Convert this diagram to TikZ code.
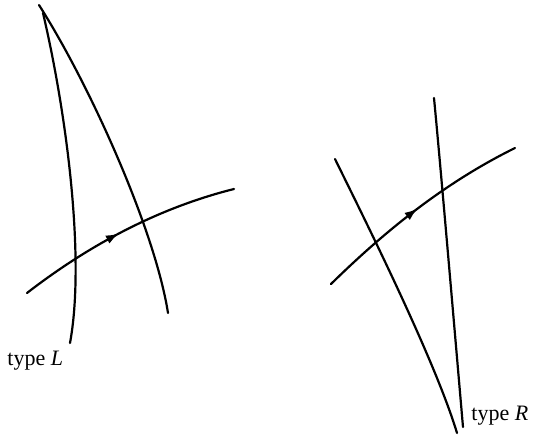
\documentclass[tikz,border=0pt]{standalone}
\usepackage{fontspec}
\setmainfont{Liberation Serif}
\usetikzlibrary{arrows.meta,decorations.markings}
\begin{document}
\begin{tikzpicture}[x=0.5pt,y=-0.5pt,
  curve/.style={line width=1.1pt,line cap=round},
  midarrow/.style={postaction={decorate},decoration={markings,
    mark=at position #1 with {\arrow{Latex[length=6.5pt,width=4.5pt]}}}},
  lbl/.style={font=\fontsize{11}{13}\selectfont,inner sep=0pt}]
\useasboundingbox (0,0) rectangle (537,440);
% left figure
\coordinate (l1a) at (43,13);
\coordinate (l1b) at (70,343);
\coordinate (l2a) at (39,5);
\coordinate (l2b) at (168,313);
\coordinate (h1a) at (27,293);
\coordinate (h1b) at (234,189);
\draw[curve] (l1a) .. controls (68,120) and (85,262) .. (l1b);
\draw[curve] (l2a) .. controls (90,85) and (155,230) .. (l2b);
\draw[curve,midarrow=0.47] (h1a) .. controls (80,252) and (150,210) .. (h1b);
\node[lbl,anchor=west] (tL) at (7,361) {type \textit{L}};
% right figure
\coordinate (r1a) at (335,159);
\coordinate (r1b) at (457,433);
\coordinate (r2a) at (434,98);
\coordinate (r2b) at (463,427);
\coordinate (h2a) at (331,284);
\coordinate (h2b) at (515,148);
\draw[curve] (r1a) .. controls (365,220) and (435,360) .. (r1b);
\draw[curve] (r2a) .. controls (440,160) and (452,300) .. (r2b);
\draw[curve,midarrow=0.5] (h2a) .. controls (380,236) and (440,185) .. (h2b);
\node[lbl,anchor=west] (tR) at (471,416) {type \textit{R}};
\end{tikzpicture}
\end{document}
